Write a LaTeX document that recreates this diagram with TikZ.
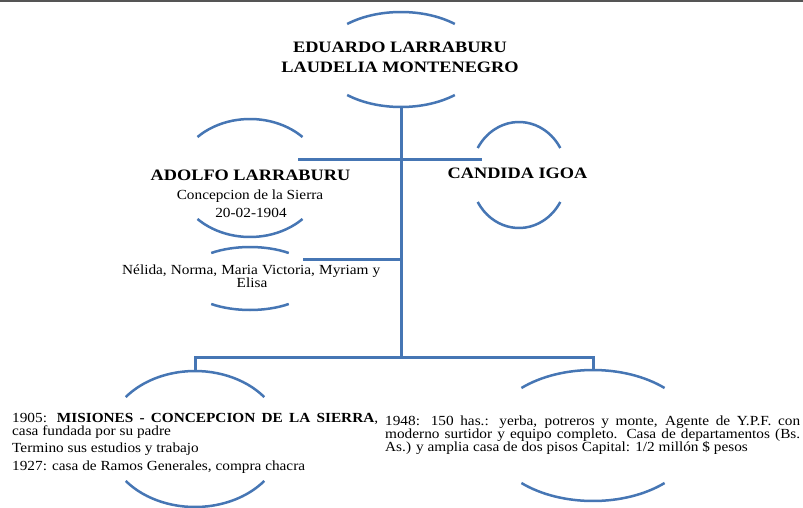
\documentclass[tikz,border=0pt]{standalone}
\usepackage{fontspec}
\setmainfont{Liberation Serif}
\newfontfamily\hfont[FakeStretch=1.15]{Liberation Serif}
\newfontfamily\bfont[FakeStretch=1.1]{Liberation Serif}
\definecolor{lnblue}{RGB}{70,118,180}
\definecolor{bordergray}{RGB}{85,85,85}
\newcommand\splitell[5]{%
  \draw[ring] (#1pt,-#2pt) ++(#5:#3pt and #4pt) arc[start angle=#5,end angle=180-#5,x radius=#3pt,y radius=#4pt];
  \draw[ring] (#1pt,-#2pt) ++(180+#5:#3pt and #4pt) arc[start angle=180+#5,end angle=360-#5,x radius=#3pt,y radius=#4pt];}
\begin{document}
\begin{tikzpicture}[x=1pt,y=1pt,
  conn/.style={draw=lnblue, line width=3pt},
  ring/.style={draw=lnblue, line width=2.5pt},
  head/.style={font=\hfont\bfseries\fontsize{15.9}{18}\selectfont, inner sep=0pt, anchor=base},
  body/.style={font=\bfont\fontsize{13.9}{13}\selectfont, inner sep=0pt}]
\useasboundingbox (0,0) rectangle (803,-508);
\fill[white] (0,0) rectangle (803,-508);
\draw[bordergray, line width=2pt] (0,-1) -- (803,-1);

% ellipses
\splitell{401}{59.5}{81}{47.5}{48.4}
\splitell{250}{178}{73}{59}{44}
\splitell{250}{278.5}{66}{31.5}{54}
\splitell{519}{175}{48}{53}{30.6}
\splitell{195}{439}{88}{68}{38.1}
\splitell{593}{435.5}{104}{65.5}{46.5}

% connector points
\coordinate (pb) at (401,-107);
\coordinate (j1) at (401,-159);
\coordinate (ja) at (298,-159);
\coordinate (jc) at (482,-159);
\coordinate (j2) at (401,-259);
\coordinate (jk) at (303,-259);
\coordinate (j3) at (401,-357);
\coordinate (jl) at (195,-357);
\coordinate (jr) at (593,-357);
\coordinate (lt) at (195,-371);
\coordinate (rt) at (593,-370);
\draw[conn] (pb) -- (j3);
\draw[conn] (ja) -- (jc);
\draw[conn] (jk) -- (j2);
\draw[conn] (lt) -- (jl) -- (jr) -- (rt);

% texts
\node[head] (p1) at (400,-53) {EDUARDO LARRABURU};
\node[head] (p2) at (400,-73) {LAUDELIA MONTENEGRO};
\node[head] (ad) at (250.5,-180) {ADOLFO LARRABURU};
\node[body,anchor=base] (ad2) at (250,-199) {Concepcion de la Sierra};
\node[body,anchor=base] (ad3) at (251,-217) {20-02-1904};
\node[head] (ca) at (517.5,-178) {CANDIDA IGOA};
\node[body,anchor=base west] (k1) at (122,-274) {\makebox[258pt][s]{Nélida, Norma, Maria Victoria, Myriam y}};
\node[body,anchor=base] (k2) at (252,-287) {Elisa};

\node[body,anchor=base west] (l1) at (12,-422) {\makebox[366pt][s]{1905: \textbf{MISIONES - CONCEPCION DE LA SIERRA},}};
\node[body,anchor=base west] (l2) at (12,-435) {casa fundada por su padre};
\node[body,anchor=base west] (l3) at (12,-452) {Termino sus estudios y trabajo};
\node[body,anchor=base west] (l4) at (12,-470) {1927: casa de Ramos Generales, compra chacra};

\node[body,anchor=base west] (r1) at (385,-425) {\makebox[415pt][s]{1948: 150 has.: yerba, potreros y monte, Agente de Y.P.F. con}};
\node[body,anchor=base west] (r2) at (385,-438) {\makebox[415pt][s]{moderno surtidor y equipo completo. Casa de departamentos (Bs.}};
\node[body,anchor=base west] (r3) at (385,-451) {As.) y amplia casa de dos pisos Capital: 1/2 millón \$ pesos};
\end{tikzpicture}
\end{document}
